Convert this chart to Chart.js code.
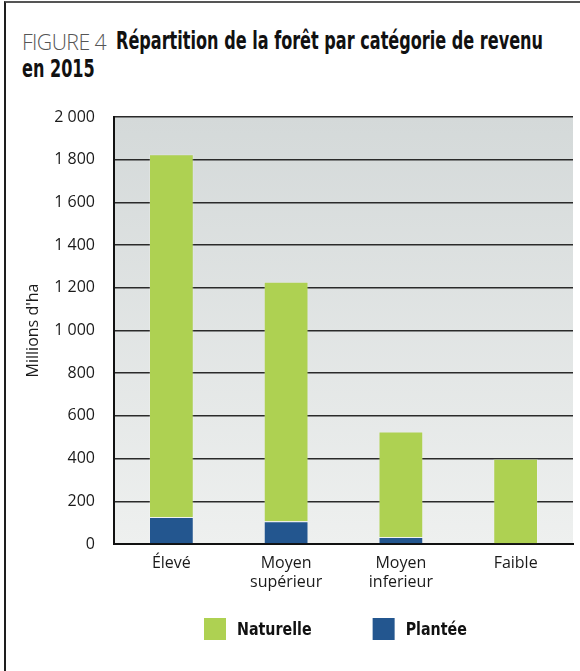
<!DOCTYPE html>
<html><head><meta charset="utf-8">
<script src="https://cdn.jsdelivr.net/npm/chart.js@4/dist/chart.umd.min.js"></script>
<style>
html,body{margin:0;padding:0;background:#fff;width:580px;height:671px;overflow:hidden}
#frame{position:absolute;left:4px;top:1px;width:580px;height:680px;border-left:2px solid #1e1e1e;border-top:2px solid #555;box-sizing:border-box}
.tt{position:absolute;white-space:nowrap;line-height:28px;transform-origin:0 0}
#fig{left:22px;top:27px;color:#555;font-family:"Open Sans","Lato",sans-serif;font-weight:300;font-size:22px;letter-spacing:-0.6px}
.bold{font-family:"Liberation Sans Narrow","DejaVu Sans Condensed","Roboto",sans-serif;font-size:24px;font-weight:bold;color:#111}
#t1{left:116px;top:27px}
#t2{left:22px;top:55px}
#wrap{position:absolute;left:0;top:0;width:580px;height:671px}
</style></head>
<body>
<div id="frame"></div>
<div id="fig" class="tt">FIGURE 4</div>
<div id="t1" class="tt bold">Répartition de la forêt par catégorie de revenu</div>
<div id="t2" class="tt bold">en 2015</div>
<div id="wrap"><canvas id="c" width="580" height="671"></canvas></div>
<script>
const categories = [["Élevé"], ["Moyen", "supérieur"], ["Moyen", "inferieur"], ["Faible"]];
const naturelle = [1700, 1122, 494, 399];
const plantee = [126, 106, 33, 0];
const yTicks = [0, 200, 400, 600, 800, 1000, 1200, 1400, 1600, 1800, 2000];
const seriesNames = ["Naturelle", "Plantée"];
const colNat = "#aed152";
const colPla = "#23568f";

const tickFont = {family: "'Open Sans', 'Lato', sans-serif", size: 16, weight: 'normal'};

const bgPlugin = {
  id: 'bg',
  beforeDraw(chart) {
    const {ctx, chartArea: a} = chart;
    const g = ctx.createLinearGradient(0, a.top, 0, a.bottom);
    g.addColorStop(0, '#d4d9d9');
    g.addColorStop(1, '#eef0ef');
    ctx.save();
    ctx.fillStyle = g;
    ctx.fillRect(a.left - 1, a.top - 1, a.right - a.left + 1, a.bottom - a.top + 1);
    ctx.restore();
  }
};

const legendPlugin = {
  id: 'customLegend',
  afterDraw(chart) {
    const ctx = chart.ctx;
    ctx.save();
    ctx.font = "bold 18px 'Liberation Sans Narrow', 'DejaVu Sans Condensed', Roboto, sans-serif";
    ctx.textBaseline = 'middle';
    const items = [
      {label: chart.data.datasets[1].label, color: chart.data.datasets[1].backgroundColor},
      {label: chart.data.datasets[0].label, color: chart.data.datasets[0].backgroundColor}
    ];
    const sx = 0.88;
    let x = 204;
    const y = 618, box = 22;
    items.forEach(it => {
      ctx.fillStyle = it.color;
      ctx.fillRect(x, y, box, box);
      ctx.fillStyle = '#111';
      const tx = x + box + 11;
      ctx.save();
      ctx.translate(tx, y + box / 2 + 1);
      ctx.scale(sx, 1);
      ctx.fillText(it.label, 0, 0);
      ctx.restore();
      x = tx + ctx.measureText(it.label).width * sx + 61;
    });
    ctx.restore();
  }
};

new Chart(document.getElementById('c'), {
  type: 'bar',
  data: {
    labels: categories,
    datasets: [
      {label: seriesNames[1], data: plantee, backgroundColor: colPla, borderColor: 'rgba(255,255,255,0.18)', borderWidth: 1, barPercentage: 0.39, categoryPercentage: 1},
      {label: seriesNames[0], data: naturelle, backgroundColor: colNat, borderColor: 'rgba(255,255,255,0.18)', borderWidth: 1, barPercentage: 0.39, categoryPercentage: 1}
    ]
  },
  options: {
    responsive: false,
    animation: false,
    layout: {padding: {top: 117, right: 7, left: 0, bottom: 0}},
    plugins: {legend: {display: false}, title: {display: false}, tooltip: {enabled: false}},
    scales: {
      x: {
        stacked: true,
        grid: {display: false, drawTicks: false},
        border: {display: true, color: '#111', width: 2},
        ticks: {padding: 10, color: '#1a1a1a', font: tickFont, maxRotation: 0, autoSkip: false},
        afterFit(s) { s.height = 127; }
      },
      y: {
        stacked: true,
        min: 0, max: 2000,
        afterBuildTicks(s) { s.ticks = yTicks.map(v => ({value: v})); },
        grid: {color: '#2a2a2a', lineWidth: 1.6, drawTicks: false},
        border: {display: true, color: '#111', width: 2},
        ticks: {
          padding: 19, color: '#1a1a1a', font: tickFont,
          callback: v => String(v).replace(/\B(?=(\d{3})+(?!\d))/g, ' ')
        },
        title: {display: true, text: "Millions d'ha", color: '#1a1a1a', font: tickFont, padding: {top: 24, bottom: 0}},
        afterFit(s) { s.width = 114; }
      }
    }
  },
  plugins: [bgPlugin, legendPlugin]
});

// fit bold title width to the reference
const t1 = document.getElementById('t1'), t2 = document.getElementById('t2');
const sx = Math.min(1, 427 / t1.scrollWidth);
t1.style.transform = 'scaleX(' + sx + ')';
t2.style.transform = 'scaleX(' + sx + ')';
const f = document.getElementById('fig');
const fs = Math.min(1.1, 84 / f.scrollWidth);
f.style.transform = 'scaleX(' + fs + ')';
</script>
</body></html>
